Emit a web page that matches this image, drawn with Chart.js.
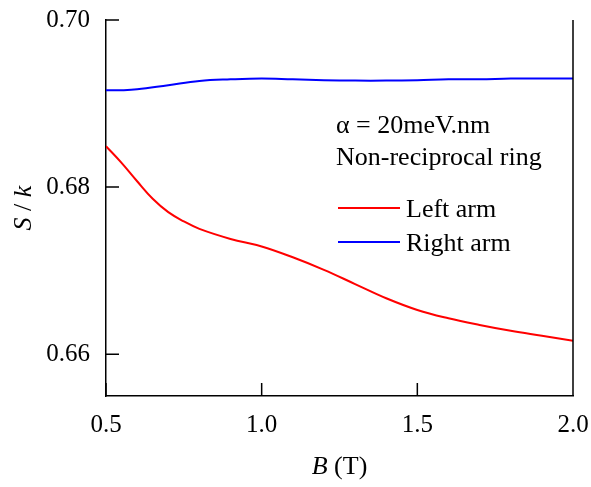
<!DOCTYPE html>
<html>
<head>
<meta charset="utf-8">
<script src="https://cdn.jsdelivr.net/npm/chart.js@4"></script>
<style>
  html, body { margin: 0; padding: 0; background: #fff; }
</style>
</head>
<body>
<canvas id="chart" width="591" height="487"></canvas>
<script>
const ctx = document.getElementById('chart');

const red = '#FF0000';
const blue = '#0000FF';
const serif = "'Liberation Serif', 'Times New Roman', serif";

// B (T) and S/k for each arm
const leftB = [0.5, 0.55, 0.6, 0.65, 0.7, 0.75, 0.8, 0.9, 1.0, 1.1, 1.2, 1.3, 1.4, 1.5, 1.6, 1.7, 1.8, 1.9, 2.0];
const leftS = [0.6849, 0.6829, 0.6807, 0.6786, 0.6770, 0.6759, 0.6750, 0.6738, 0.6729, 0.6716, 0.6701, 0.6684, 0.6667, 0.6653, 0.6643, 0.6635, 0.6628, 0.6622, 0.6616];
const rightB = [0.5, 0.55, 0.6, 0.7, 0.8, 0.9, 1.0, 1.1, 1.2, 1.3, 1.4, 1.5, 1.6, 1.7, 1.8, 1.9, 2.0];
const rightS = [0.6916, 0.6916, 0.6917, 0.6922, 0.6927, 0.6929, 0.6930, 0.6929, 0.6928, 0.69275, 0.69275, 0.6928, 0.6929, 0.6929, 0.6930, 0.6930, 0.6930];

const seriesLabels = ['Left arm', 'Right arm'];
const yTicks = [0.66, 0.68, 0.70];
const xTicks = [0.5, 1.0, 1.5, 2.0];
const noteLines = ['\u03B1 = 20meV.nm', 'Non-reciprocal ring'];

function toPoints(xs, ys) {
  return xs.map((x, i) => ({ x: x, y: ys[i] }));
}

function noOverflow(scale) {
  scale.paddingTop = 0;
  scale.paddingBottom = 0;
  scale.paddingLeft = 0;
  scale.paddingRight = 0;
}

// inward ticks, right border, axis titles, notes and legend
const decorations = {
  id: 'decorations',
  afterDraw(chart) {
    const c = chart.ctx;
    const area = chart.chartArea;
    const xs = chart.scales.x;
    const ys = chart.scales.y;
    c.save();
    c.strokeStyle = '#000';
    c.lineWidth = 1.5;
    c.beginPath();
    c.moveTo(area.right, area.top);
    c.lineTo(area.right, area.bottom);
    yTicks.forEach(v => {
      const py = ys.getPixelForValue(v);
      c.moveTo(area.left, py);
      c.lineTo(area.left + 13, py);
    });
    xTicks.forEach(v => {
      const px = xs.getPixelForValue(v);
      c.moveTo(px, area.bottom);
      c.lineTo(px, area.bottom - 13);
    });
    c.stroke();

    c.fillStyle = '#000';
    c.textBaseline = 'alphabetic';

    // x title: B (T)
    c.font = 'italic 26px ' + serif;
    const bW = c.measureText('B').width;
    c.font = '26px ' + serif;
    const restW = c.measureText(' (T)').width;
    let tx = (area.left + area.right) / 2 - (bW + restW) / 2;
    c.font = 'italic 26px ' + serif;
    c.fillText('B', tx, 474);
    c.font = '26px ' + serif;
    c.fillText(' (T)', tx + bW, 474);

    // y title: S / k
    c.save();
    c.translate(31, (area.top + area.bottom) / 2);
    c.rotate(-Math.PI / 2);
    c.font = 'italic 26px ' + serif;
    const sW = c.measureText('S').width;
    const kW = c.measureText('k').width;
    c.font = '26px ' + serif;
    const slW = c.measureText(' / ').width;
    let ty = -(sW + slW + kW) / 2;
    c.font = 'italic 26px ' + serif;
    c.fillText('S', ty, 0);
    c.font = '26px ' + serif;
    c.fillText(' / ', ty + sW, 0);
    c.font = 'italic 26px ' + serif;
    c.fillText('k', ty + sW + slW, 0);
    c.restore();

    // notes
    c.font = '26px ' + serif;
    c.fillText(noteLines[0], 336, 133);
    c.fillText(noteLines[1], 336, 165);

    // legend
    const legY = [208, 242];
    chart.data.datasets.forEach((ds, i) => {
      c.strokeStyle = ds.borderColor;
      c.lineWidth = 2;
      c.beginPath();
      c.moveTo(338, legY[i]);
      c.lineTo(400, legY[i]);
      c.stroke();
      c.fillStyle = '#000';
      c.fillText(ds.label, 406, legY[i] + 9);
    });
    c.restore();
  }
};

new Chart(ctx, {
  type: 'line',
  data: {
    datasets: [
      {
        label: seriesLabels[0],
        data: toPoints(leftB, leftS),
        borderColor: red,
        borderWidth: 2,
        pointRadius: 0,
        tension: 0.4,
        fill: false,
      },
      {
        label: seriesLabels[1],
        data: toPoints(rightB, rightS),
        borderColor: blue,
        borderWidth: 2,
        pointRadius: 0,
        tension: 0.4,
        fill: false,
      },
    ],
  },
  options: {
    responsive: false,
    animation: false,
    layout: { padding: { top: 20, right: 18, left: 0, bottom: 0 } },
    plugins: {
      legend: { display: false },
      tooltip: { enabled: false },
    },
    scales: {
      x: {
        type: 'linear',
        min: 0.5,
        max: 2.0,
        afterFit: (scale) => { scale.height = 91; noOverflow(scale); },
        afterBuildTicks: (scale) => { scale.ticks = xTicks.map(v => ({ value: v })); },
        grid: { display: false, drawTicks: false },
        border: { display: true, color: '#000', width: 1.5 },
        ticks: {
          padding: 14,
          color: '#000',
          font: { family: serif, size: 25 },
          callback: (v) => Number(v).toFixed(1),
          maxRotation: 0,
        },
      },
      y: {
        type: 'linear',
        min: 0.655,
        max: 0.70,
        afterFit: (scale) => { scale.width = 106; noOverflow(scale); },
        afterBuildTicks: (scale) => { scale.ticks = yTicks.map(v => ({ value: v })); },
        grid: { display: false, drawTicks: false },
        border: { display: true, color: '#000', width: 1.5 },
        ticks: {
          padding: 16,
          color: '#000',
          font: { family: serif, size: 25 },
          callback: (v) => Number(v).toFixed(2),
        },
      },
    },
  },
  plugins: [decorations],
});
</script>
</body>
</html>
